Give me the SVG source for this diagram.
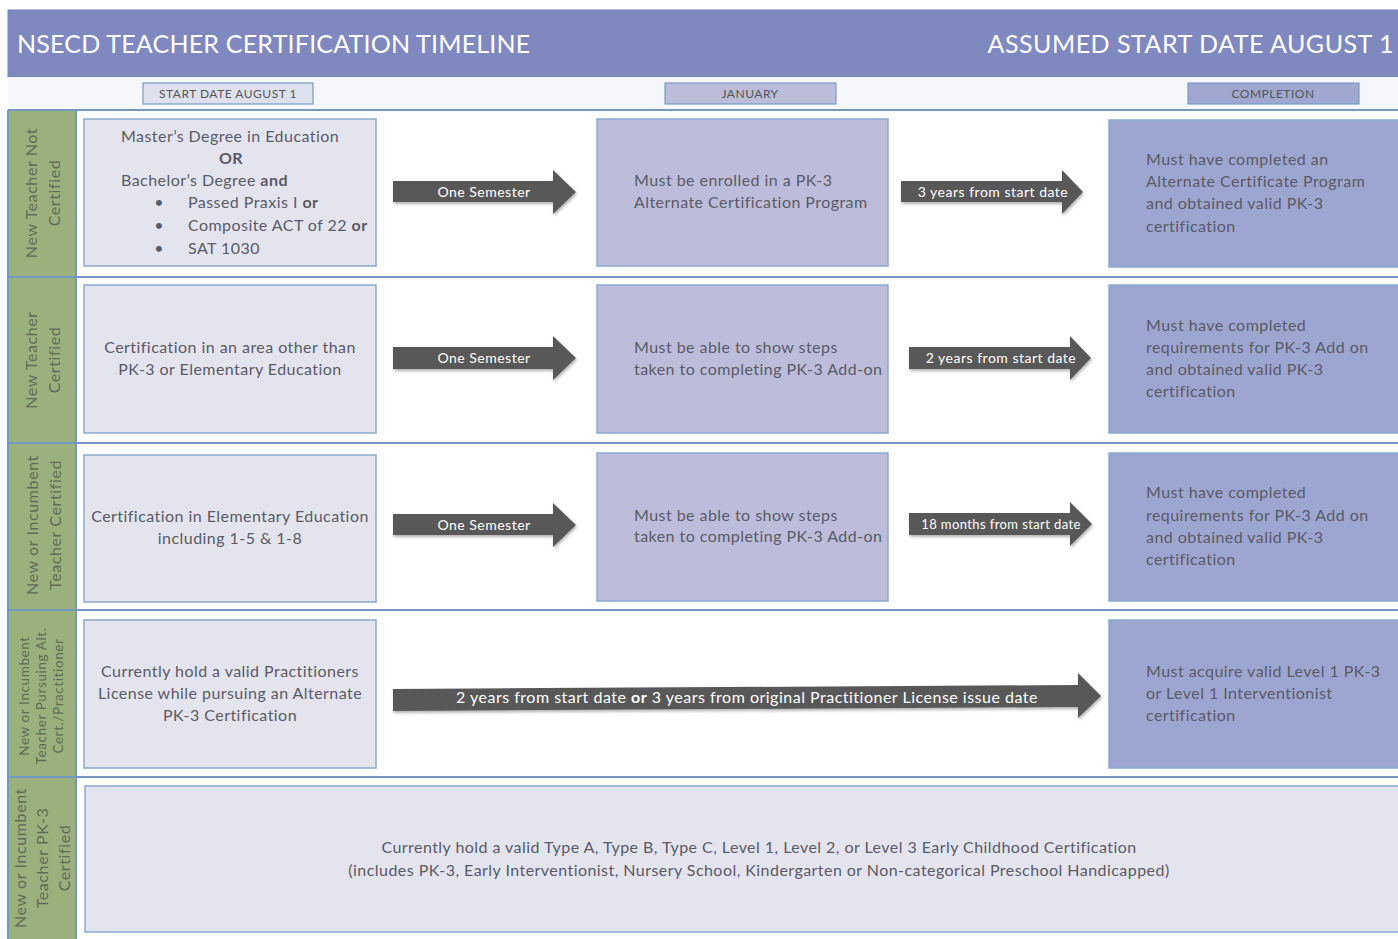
<svg xmlns="http://www.w3.org/2000/svg" width="1398" height="939" viewBox="0 0 1398 939">
<style>
.t{font-family:Lato,"Open Sans",sans-serif;fill:#5a5a66;font-size:16px;letter-spacing:0.45px}
.c{text-anchor:middle}
.b{font-weight:bold}
.lab{font-family:Lato,"Open Sans",sans-serif;fill:#5f6b58;font-size:16px;text-anchor:middle;letter-spacing:0.6px}
.box1{fill:#e4e4ef;stroke:#8aaad0;stroke-width:1.5}
.box2{fill:#bdbddb;stroke:#8aaad0;stroke-width:1.5}
.box3{fill:#9da6d1;stroke:#8aaad0;stroke-width:1.5}
.arr{fill:#595959;filter:url(#sh)}
.at{font-family:Lato,"Open Sans",sans-serif;fill:#ffffff;font-size:14px;text-anchor:middle;letter-spacing:0.5px}
.sep{stroke:#7498c2;stroke-width:2}
.hb{stroke:#7a9cc6;stroke-width:1.2}
.ht{font-family:Lato,"Open Sans",sans-serif;fill:#555;font-size:12px;text-anchor:middle;letter-spacing:0.5px}
.ttl{font-family:Lato,"Open Sans",sans-serif;font-size:25px;fill:#ffffff;letter-spacing:0.2px}
</style>
<defs>
<filter id="sh" x="-5%" y="-20%" width="110%" height="150%">
<feDropShadow dx="1" dy="2" stdDeviation="1.5" flood-color="#000" flood-opacity="0.3"/>
</filter>
</defs>
<rect x="0" y="0" width="1398" height="939" fill="#ffffff"/>
<g id="header">
<rect x="8" y="10" width="1392" height="67" fill="#7f89bf" stroke="#6a87b5" stroke-width="1"/>
<text class="ttl" x="17" y="53">NSECD TEACHER CERTIFICATION TIMELINE</text>
<text class="ttl" x="1394" y="53" text-anchor="end" style="letter-spacing:0.5px">ASSUMED START DATE AUGUST 1</text>
</g>
<g id="subheader">
<rect x="8" y="77" width="1392" height="33" fill="#f6f7fb"/>
<rect class="hb" x="143" y="83" width="170" height="21" fill="#dfe0ee"/>
<text class="ht" x="228" y="98">START DATE AUGUST 1</text>
<rect class="hb" x="665" y="83" width="171" height="21" fill="#bcbcdb"/>
<text class="ht" x="750" y="98">JANUARY</text>
<rect class="hb" x="1188" y="83" width="171" height="21" fill="#a0a7d0"/>
<text class="ht" x="1273" y="98">COMPLETION</text>
</g>
<g id="labels">
<rect x="8" y="110" width="68" height="829" fill="#9bb17d"/>
<line x1="8" y1="110" x2="8" y2="939" class="sep"/>
<line x1="76" y1="110" x2="76" y2="939" class="sep"/>
<text class="lab" transform="translate(37,193) rotate(-90)">New Teacher Not</text>
<text class="lab" transform="translate(60,193) rotate(-90)">Certified</text>
<text class="lab" transform="translate(37,360) rotate(-90)">New Teacher</text>
<text class="lab" transform="translate(60,360) rotate(-90)">Certified</text>
<text class="lab" transform="translate(38,525) rotate(-90)">New or Incumbent</text>
<text class="lab" transform="translate(61,525) rotate(-90)">Teacher Certified</text>
<text class="lab" style="font-size:13.5px" transform="translate(29,696) rotate(-90)">New or Incumbent</text>
<text class="lab" style="font-size:13.5px" transform="translate(46,696) rotate(-90)">Teacher Pursuing Alt.</text>
<text class="lab" style="font-size:13.5px" transform="translate(63,696) rotate(-90)">Cert./Practitioner</text>
<text class="lab" transform="translate(26,858) rotate(-90)">New or Incumbent</text>
<text class="lab" transform="translate(48,858) rotate(-90)">Teacher PK-3</text>
<text class="lab" transform="translate(70,858) rotate(-90)">Certified</text>
</g>
<g id="separators">
<line class="sep" x1="8" y1="110" x2="1398" y2="110"/>
<line class="sep" x1="8" y1="277" x2="1398" y2="277"/>
<line class="sep" x1="8" y1="443" x2="1398" y2="443"/>
<line class="sep" x1="8" y1="610" x2="1398" y2="610"/>
<line class="sep" x1="8" y1="777" x2="1398" y2="777"/>
</g>
<g id="row1-start">
<rect class="box1" x="84" y="119" width="292" height="147"/>
<text class="t" x="121" y="142">Master’s Degree in Education</text>
<text class="t c b" x="231" y="164">OR</text>
<text class="t" x="121" y="186">Bachelor’s Degree <tspan class="b">and</tspan></text>
<text class="t" x="159" y="208" text-anchor="middle">•</text>
<text class="t" x="188" y="208">Passed Praxis I <tspan class="b">or</tspan></text>
<text class="t" x="159" y="231" text-anchor="middle">•</text>
<text class="t" x="188" y="231">Composite ACT of 22 <tspan class="b">or</tspan></text>
<text class="t" x="159" y="254" text-anchor="middle">•</text>
<text class="t" x="188" y="254">SAT 1030</text>
</g>
<g id="row1-jan">
<rect class="box2" x="597" y="119" width="291" height="147"/>
<text class="t" x="634" y="186">Must be enrolled in a PK-3</text>
<text class="t" x="634" y="208">Alternate Certification Program</text>
</g>
<g id="row1-end">
<rect class="box3" x="1109" y="120" width="292" height="147"/>
<text class="t" x="1146" y="165">Must have completed an</text>
<text class="t" x="1146" y="187">Alternate Certificate Program</text>
<text class="t" x="1146" y="209">and obtained valid PK-3</text>
<text class="t" x="1146" y="232">certification</text>
</g>
<g id="row2-start">
<rect class="box1" x="84" y="285" width="292" height="148"/>
<text class="t c" x="230" y="353">Certification in an area other than</text>
<text class="t c" x="230" y="375">PK-3 or Elementary Education</text>
</g>
<g id="row2-jan">
<rect class="box2" x="597" y="285" width="291" height="148"/>
<text class="t" x="634" y="353">Must be able to show steps</text>
<text class="t" x="634" y="375">taken to completing PK-3 Add-on</text>
</g>
<g id="row2-end">
<rect class="box3" x="1109" y="285" width="292" height="148"/>
<text class="t" x="1146" y="331">Must have completed</text>
<text class="t" x="1146" y="353">requirements for PK-3 Add on</text>
<text class="t" x="1146" y="375">and obtained valid PK-3</text>
<text class="t" x="1146" y="397">certification</text>
</g>
<g id="row3-start">
<rect class="box1" x="84" y="455" width="292" height="147"/>
<text class="t c" x="230" y="522">Certification in Elementary Education</text>
<text class="t c" x="230" y="544">including 1-5 &amp; 1-8</text>
</g>
<g id="row3-jan">
<rect class="box2" x="597" y="453" width="291" height="148"/>
<text class="t" x="634" y="521">Must be able to show steps</text>
<text class="t" x="634" y="542">taken to completing PK-3 Add-on</text>
</g>
<g id="row3-end">
<rect class="box3" x="1109" y="453" width="292" height="148"/>
<text class="t" x="1146" y="498">Must have completed</text>
<text class="t" x="1146" y="521">requirements for PK-3 Add on</text>
<text class="t" x="1146" y="543">and obtained valid PK-3</text>
<text class="t" x="1146" y="565">certification</text>
</g>
<g id="row4-start">
<rect class="box1" x="84" y="620" width="292" height="148"/>
<text class="t c" x="230" y="677">Currently hold a valid Practitioners</text>
<text class="t c" x="230" y="699">License while pursuing an Alternate</text>
<text class="t c" x="230" y="721">PK-3 Certification</text>
</g>
<g id="row4-end">
<rect class="box3" x="1109" y="620" width="292" height="148"/>
<text class="t" x="1146" y="677">Must acquire valid Level 1 PK-3</text>
<text class="t" x="1146" y="699">or Level 1 Interventionist</text>
<text class="t" x="1146" y="721">certification</text>
</g>
<g id="row5">
<rect class="box1" x="85" y="786" width="1316" height="146"/>
<text class="t c" x="759" y="853">Currently hold a valid Type A, Type B, Type C, Level 1, Level 2, or Level 3 Early Childhood Certification</text>
<text class="t c" x="759" y="876">(includes PK-3, Early Interventionist, Nursery School, Kindergarten or Non-categorical Preschool Handicapped)</text>
</g>
<g id="connectors">
<polygon class="arr" points="393,181 553,181 553,170 576,192 553,214 553,202 393,202"/>
<text class="at" x="484" y="197">One Semester</text>
<polygon class="arr" points="901,181 1062,181 1062,170 1083,192 1062,214 1062,202 901,202"/>
<text class="at" x="993" y="197">3 years from start date</text>
<polygon class="arr" points="393,347 553,347 553,336 576,358 553,380 553,369 393,369"/>
<text class="at" x="484" y="363">One Semester</text>
<polygon class="arr" points="909,347 1070,347 1070,336 1091,358 1070,380 1070,369 909,369"/>
<text class="at" x="1001" y="363">2 years from start date</text>
<polygon class="arr" points="393,514 553,514 553,503 576,525 553,547 553,535 393,535"/>
<text class="at" x="484" y="530">One Semester</text>
<polygon class="arr" points="909,513 1070,513 1070,502 1092,524 1070,546 1070,535 909,535"/>
<text class="at" x="1001" y="529" style="font-size:13px;letter-spacing:0.4px">18 months from start date</text>
<polygon class="arr" points="393,689 1078,685 1078,673 1101,696 1078,718 1078,707 393,711"/>
<text class="at" x="747" y="703" style="font-size:16px">2 years from start date <tspan font-weight="bold">or</tspan> 3 years from original Practitioner License issue date</text>
</g>
</svg>
